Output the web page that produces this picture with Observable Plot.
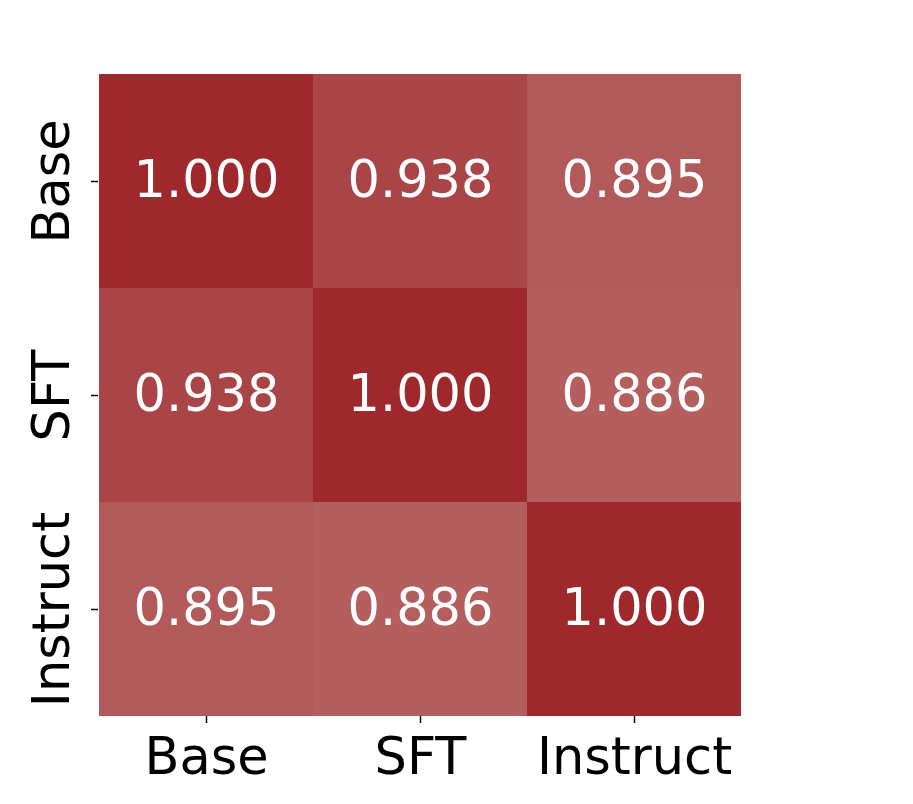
<!DOCTYPE html>
<html>
<head>
<meta charset="utf-8">
<script src="https://cdn.jsdelivr.net/npm/d3@7"></script>
<script src="https://cdn.jsdelivr.net/npm/@observablehq/plot@0.6"></script>
<style>
  html, body { margin: 0; padding: 0; background: #fff; }
  #chart { width: 913px; height: 804px; }
</style>
</head>
<body>
<div id="chart"></div>
<script>
const models = ["Base", "SFT", "Instruct"];
const rowBase = [1.000, 0.938, 0.895];
const rowSFT = [0.938, 1.000, 0.886];
const rowInstruct = [0.895, 0.886, 1.000];
const rows = [rowBase, rowSFT, rowInstruct];

const data = [];
rows.forEach((row, i) => row.forEach((v, j) => data.push({ y: models[i], x: models[j], v })));

const font = "DejaVu Sans, sans-serif";

const chart = Plot.plot({
  width: 913,
  height: 804,
  marginLeft: 98,
  marginRight: 171,
  marginTop: 73,
  marginBottom: 88,
  style: { fontFamily: font, background: "#fff" },
  x: { domain: models, padding: 0, axis: null },
  y: { domain: models, padding: 0, axis: null },
  color: { type: "linear", domain: [0.886, 1.0], range: ["#b45e5d", "#9e282c"] },
  marks: [
    Plot.cell(data, { x: "x", y: "y", fill: "v" }),
    Plot.text(data, {
      x: "x", y: "y", text: d => d.v.toFixed(3), dy: -1,
      fill: "white", fontSize: 51, fontFamily: font
    }),
    Plot.axisX({ anchor: "bottom", label: null, tickSize: 7, tickPadding: 14, strokeWidth: 1.5, fontSize: 51, fontFamily: font, color: "black" }),
    Plot.axisY({ anchor: "left", label: null, tickSize: 7, strokeWidth: 1.5, tickFormat: () => "", color: "black" }),
    Plot.text(models, {
      y: d => d, text: d => d, frameAnchor: "left", dx: -46,
      rotate: -90, textAnchor: "middle", lineAnchor: "middle",
      fontSize: 51, fontFamily: font, fill: "black"
    })
  ]
});
document.getElementById("chart").appendChild(chart);
</script>
</body>
</html>
